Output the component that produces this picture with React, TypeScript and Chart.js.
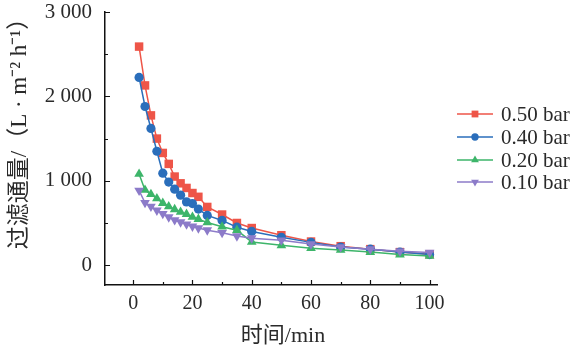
import React, { useEffect, useRef } from "react";
import { Chart, registerables } from "chart.js";

Chart.register(...registerables);

const timeMin = [2, 4, 6, 8, 10, 12, 14, 16, 18, 20, 22, 25, 30, 35, 40, 50, 60, 70, 80, 90, 100];
const flux050 = [2590, 2130, 1775, 1500, 1330, 1200, 1050, 970, 915, 855, 810, 690, 600, 500, 440, 355, 280, 225, 190, 155, 130];
const flux040 = [2225, 1880, 1620, 1350, 1090, 985, 900, 830, 750, 730, 665, 590, 530, 450, 400, 330, 270, 215, 190, 155, 125];
const flux020 = [1080, 890, 840, 790, 735, 695, 660, 630, 605, 570, 545, 505, 455, 415, 275, 235, 200, 180, 155, 125, 110];
const flux010 = [885, 740, 695, 650, 610, 570, 535, 510, 485, 460, 440, 415, 385, 345, 320, 295, 250, 215, 190, 165, 150];

const seriesLabels = ["0.50 bar", "0.40 bar", "0.20 bar", "0.10 bar"];
const xTicks = [0, 20, 40, 60, 80, 100];
const xMinorTicks = [10, 30, 50, 70, 90];
const yTicks = [0, 1000, 2000, 3000];
const yMinorTicks = [500, 1500, 2500];
const xTitle = "时间/min";
const yTitle = "过滤通量/（L · m⁻² h⁻¹）";

const COLORS = ["#EE5548", "#2A6EBB", "#3DB56A", "#8C7BC9"];
const STYLES = ["rect", "circle", "triangle", "triangle"];
const ROT = [0, 0, 0, 180];
const RADII = [6, 4.6, 5.6, 5.6];
const FONT = "'Liberation Serif', 'Times New Roman', 'Noto Sans CJK SC', serif";

function drawMarker(ctx: CanvasRenderingContext2D, style: string, rot: number, x: number, y: number, r: number) {
  ctx.beginPath();
  if (style === "rect") {
    const s = r * Math.SQRT1_2;
    ctx.rect(x - s, y - s, 2 * s, 2 * s);
  } else if (style === "circle") {
    ctx.arc(x, y, r, 0, Math.PI * 2);
  } else {
    const dir = rot === 180 ? -1 : 1;
    for (let i = 0; i < 3; i++) {
      const a = -Math.PI / 2 + (i * 2 * Math.PI) / 3;
      const px = x + r * Math.cos(a);
      const py = y + dir * r * Math.sin(a);
      if (i === 0) ctx.moveTo(px, py);
      else ctx.lineTo(px, py);
    }
    ctx.closePath();
  }
  ctx.fill();
}

const decorPlugin = {
  id: "decor",
  afterDraw(chart: any) {
    const ctx = chart.ctx as CanvasRenderingContext2D;
    const xs = chart.scales.x;
    const ys = chart.scales.y;
    const area = chart.chartArea;
    ctx.save();
    ctx.strokeStyle = "#111";
    ctx.lineWidth = 1.2;
    // inward ticks
    ctx.beginPath();
    xTicks.forEach((v) => {
      const px = Math.round(xs.getPixelForValue(v)) + 0.5;
      ctx.moveTo(px, area.bottom);
      ctx.lineTo(px, area.bottom - 5);
    });
    xMinorTicks.forEach((v) => {
      const px = Math.round(xs.getPixelForValue(v)) + 0.5;
      ctx.moveTo(px, area.bottom);
      ctx.lineTo(px, area.bottom - 3);
    });
    yTicks.forEach((v) => {
      const py = Math.round(ys.getPixelForValue(v)) + 0.5;
      ctx.moveTo(area.left, py);
      ctx.lineTo(area.left + 5, py);
    });
    yMinorTicks.forEach((v) => {
      const py = Math.round(ys.getPixelForValue(v)) + 0.5;
      ctx.moveTo(area.left, py);
      ctx.lineTo(area.left + 3, py);
    });
    ctx.stroke();

    // axis titles
    ctx.fillStyle = "#2a2a2a";
    ctx.textAlign = "center";
    ctx.textBaseline = "middle";
    ctx.font = `22px ${FONT}`;
    ctx.fillText(xTitle, 283, 336);
    ctx.save();
    ctx.translate(20, 128);
    ctx.rotate(-Math.PI / 2);
    ctx.font = `23px ${FONT}`;
    ctx.fillText(yTitle, 0, 0);
    ctx.restore();

    // legend
    const legendY = [114, 137, 160, 182];
    seriesLabels.forEach((lab, i) => {
      const y = legendY[i];
      ctx.strokeStyle = COLORS[i];
      ctx.lineWidth = 1.5;
      ctx.beginPath();
      ctx.moveTo(457, y);
      ctx.lineTo(493, y);
      ctx.stroke();
      ctx.fillStyle = COLORS[i];
      drawMarker(ctx, STYLES[i], ROT[i], 475, y, RADII[i] * 0.8);
      ctx.fillStyle = "#2a2a2a";
      ctx.textAlign = "left";
      ctx.font = `21px ${FONT}`;
      ctx.fillText(lab, 501, y + 1);
    });
    ctx.restore();
  },
};

export default function App() {
  const ref = useRef<HTMLCanvasElement | null>(null);
  useEffect(() => {
    if (!ref.current) return;
    const data = [flux050, flux040, flux020, flux010];
    const chart = new Chart(ref.current, {
      type: "line",
      data: {
        datasets: data.map((vals, i) => ({
          label: seriesLabels[i],
          data: timeMin.map((t, j) => ({ x: t, y: vals[j] })),
          borderColor: COLORS[i],
          backgroundColor: COLORS[i],
          borderWidth: 1.5,
          pointStyle: STYLES[i] as any,
          pointRotation: ROT[i],
          pointRadius: RADII[i],
          pointBorderWidth: 0,
          tension: 0,
          order: 3 - i,
        })),
      },
      options: {
        animation: false,
        responsive: false,
        events: [],
        layout: { autoPadding: false, padding: { left: 0, top: 12, right: 139, bottom: 0 } },
        plugins: { legend: { display: false }, tooltip: { enabled: false } },
        scales: {
          x: {
            type: "linear",
            min: -9.5,
            max: 102.5,
            afterFit: (s: any) => {
              s.height = 70;
              s.paddingLeft = 0;
              s.paddingRight = 0;
            },
            afterBuildTicks: (s: any) => {
              s.ticks = xTicks.map((v) => ({ value: v }));
            },
            grid: { display: false, drawTicks: false },
            border: { display: true, color: "#111", width: 1.5 },
            ticks: { padding: 7, color: "#2a2a2a", font: { family: FONT, size: 20 }, maxRotation: 0 },
          },
          y: {
            type: "linear",
            min: -235,
            max: 3000,
            afterFit: (s: any) => {
              s.width = 105;
              s.paddingTop = 0;
              s.paddingBottom = 0;
            },
            afterBuildTicks: (s: any) => {
              s.ticks = yTicks.map((v) => ({ value: v }));
            },
            grid: { display: false, drawTicks: false },
            border: { display: true, color: "#111", width: 1.5 },
            ticks: {
              padding: 13,
              color: "#2a2a2a",
              font: { family: FONT, size: 21 },
              callback: (v: any) => {
                const n = Number(v);
                return n >= 1000 ? `${Math.floor(n / 1000)} ${String(n % 1000).padStart(3, "0")}` : String(n);
              },
            },
          },
        },
      },
      plugins: [decorPlugin],
    });
    return () => chart.destroy();
  }, []);
  return (
    <div style={{ position: "fixed", left: 0, top: 0, width: 576, height: 355, background: "#fff" }}>
      <canvas ref={ref} width={576} height={355} style={{ display: "block", width: 576, height: 355 }} />
    </div>
  );
}
